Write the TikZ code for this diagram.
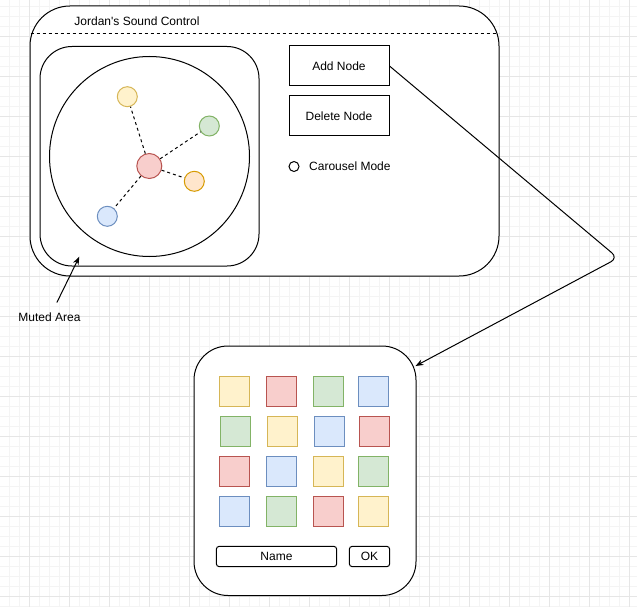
\documentclass[tikz,border=0pt]{standalone}
\usepackage{fontspec}
\setmainfont{Liberation Sans}[Ligatures=TeXOff]
\usetikzlibrary{arrows.meta}
\definecolor{yfill}{HTML}{FFF2CC}\definecolor{ydraw}{HTML}{D6B656}
\definecolor{gfill}{HTML}{D5E8D4}\definecolor{gdraw}{HTML}{82B366}
\definecolor{rfill}{HTML}{F8CECC}\definecolor{rdraw}{HTML}{B85450}
\definecolor{ofill}{HTML}{FFE6CC}\definecolor{odraw}{HTML}{D79B00}
\definecolor{bfill}{HTML}{DAE8FC}\definecolor{bdraw}{HTML}{6C8EBF}
\definecolor{gridminor}{HTML}{F4F4F4}
\definecolor{gridmajor}{HTML}{E6E6E6}
\tikzset{
  every node/.style={font=\fontsize{12}{14}\selectfont, text=black},
  shape box/.style={draw=black, fill=white, line width=1pt, inner sep=0pt},
  dot/.style={circle, line width=1pt, inner sep=0pt, minimum size=20pt},
  ydot/.style={dot, draw=ydraw, fill=yfill},
  gdot/.style={dot, draw=gdraw, fill=gfill},
  rdot/.style={dot, draw=rdraw, fill=rfill},
  odot/.style={dot, draw=odraw, fill=ofill},
  bdot/.style={dot, draw=bdraw, fill=bfill},
  sq/.style={rectangle, line width=1pt, inner sep=0pt, minimum size=30pt},
  ysq/.style={sq, draw=ydraw, fill=yfill},
  gsq/.style={sq, draw=gdraw, fill=gfill},
  rsq/.style={sq, draw=rdraw, fill=rfill},
  bsq/.style={sq, draw=bdraw, fill=bfill},
  link/.style={draw=black, line width=1pt, dash pattern=on 3pt off 3pt},
  conn/.style={draw=black, line width=1pt, -{Stealth[length=8pt,width=6pt]}},
}
\begin{document}
\begin{tikzpicture}[x=1pt, y=-1pt]
\useasboundingbox (0,0) rectangle (637,607);
\fill[white] (0,0) rectangle (637,607);
% grid
\foreach \x in {9,19,...,629} \draw[gridminor, line width=0.8pt] (\x,0) -- (\x,607);
\foreach \y in {6,16,...,606} \draw[gridminor, line width=0.8pt] (0,\y) -- (637,\y);
\foreach \x in {29,69,...,629} \draw[gridmajor, line width=0.8pt] (\x,0) -- (\x,607);
\foreach \y in {36,76,...,596} \draw[gridmajor, line width=0.8pt] (0,\y) -- (637,\y);

% main window
\node[shape box, rounded corners=40pt, minimum width=469pt, minimum height=270pt] (outer) at (264.5,141) {};
\coordinate (dl) at (30.5,34);
\coordinate (dr) at (498.5,34);
\draw[line width=1pt, dash pattern=on 3pt off 3pt] (dl) -- (dr);
\node (title) at (137,21) {Jordan's Sound Control};

% muted area
\node[shape box, rounded corners=32pt, minimum width=219pt, minimum height=219.5pt] (inner) at (149.5,156.25) {};
\node[circle, shape box, minimum size=200pt] (big) at (149.5,156.5) {};

\node[rdot, minimum size=25pt] (red) at (149.3,166) {};
\node[ydot] (yel) at (127.3,96.7) {};
\node[gdot] (grn) at (209.3,126) {};
\node[odot] (org) at (194.3,181.3) {};
\node[bdot] (blu) at (107.3,216.3) {};
\draw[link] (red) -- (yel);
\draw[link] (red) -- (grn);
\draw[link] (red) -- (org);
\draw[link] (red) -- (blu);

% buttons
\node[shape box, minimum width=100pt, minimum height=40pt] (add) at (339,66) {Add Node};
\node[shape box, minimum width=100pt, minimum height=40pt] (del) at (339,116) {Delete Node};
\node[circle, shape box, minimum size=10pt] (radio) at (294,166.5) {};
\node[anchor=west, inner sep=0pt] (carousel) at (309,166.5) {Carousel Mode};

% muted label
\node[minimum height=28.6pt] (muted) at (49.5,317) {Muted Area};
\coordinate (mutedtip) at (79.3,256.7);
\draw[conn] (muted.63) -- (mutedtip);

% popup
\node[shape box, rounded corners=34pt, minimum width=222pt, minimum height=249.5pt] (popup) at (305,470.75) {};
\node[ysq] (s11) at (234.5,391) {};
\node[rsq] (s12) at (281.5,391) {};
\node[gsq] (s13) at (328.5,391) {};
\node[bsq] (s14) at (373.5,391) {};
\node[gsq] (s21) at (235.5,431) {};
\node[ysq] (s22) at (282.5,431) {};
\node[bsq] (s23) at (329.5,431) {};
\node[rsq] (s24) at (374.5,431) {};
\node[rsq] (s31) at (234.5,471) {};
\node[bsq] (s32) at (281.5,471) {};
\node[ysq] (s33) at (328.5,471) {};
\node[gsq] (s34) at (373.5,471) {};
\node[bsq] (s41) at (234.5,511) {};
\node[gsq] (s42) at (281.5,511) {};
\node[rsq] (s43) at (328.5,511) {};
\node[ysq] (s44) at (373.5,511) {};
\node[shape box, rounded corners=3pt, minimum width=120.4pt, minimum height=20.4pt] (name) at (276.5,556.5) {Name};
\node[shape box, rounded corners=3pt, minimum width=40.4pt, minimum height=20.4pt] (ok) at (369.5,556.5) {OK};

% connector
\coordinate (bend) at (618,258);
\coordinate (tip) at (415.5,366);
\draw[conn, rounded corners=8pt] (add.east) -- (bend) -- (tip);
\end{tikzpicture}
\end{document}
